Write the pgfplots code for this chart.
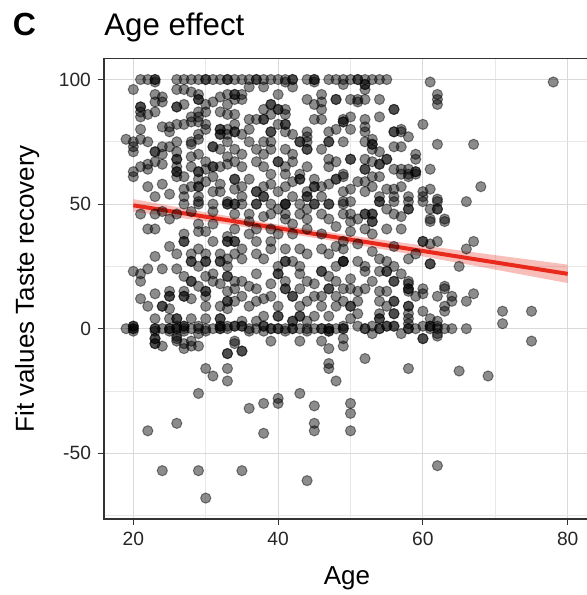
\documentclass[border=0pt]{standalone}
\usepackage{fontspec}
\setmainfont{Liberation Sans}
\usepackage{pgfplots}
\usepackage{pgfplotstable}
\pgfplotsset{compat=1.18}
\definecolor{fitred}{HTML}{E8291C}

\pgfplotstableread{
x y
21 100
22 100
23 100
26 100
27 100
28 100
29 100
30 100
31 100
32 100
33 100
34 100
23 100
30 100
33 100
23 99
20 96
26 96
27 96
28 95
29 94
23 94
24 93
32 93
33 94
23 91
24 91
29 92
29 92
30 90
31 91
21 89
21 89
26 89
26 89
27 90
33 90
21 87
22 86
23 87
29 87
30 87
32 87
33 86
21 85
28 85
29 85
24 81
25 81
26 82
27 82
28 83
29 83
30 82
32 80
32 80
33 80
21 80
25 79
29 78
30 80
32 78
32 78
33 78
19 76
20 75
21 76
22 75
26 75
28 75
29 76
33 75
20 73
24 73
25 73
28 74
31 73
31 73
20 71
23 71
23 71
26 71
32 72
24 70
28 69
29 70
33 69
26 68
26 68
23 67
22 66
30 67
21 65
24 66
26 65
28 65
31 65
31 65
32 65
33 66
20 63
22 64
26 63
26 63
29 63
29 63
30 64
20 61
26 61
27 61
29 60
31 61
28 57
29 57
29 57
32 58
32 55
31 55
23 53
25 54
27 53
29 53
29 51
33 51
35 100
36 100
37 100
37 100
38 100
39 100
40 100
41 100
42 100
42 100
44 100
45 100
45 100
47 100
48 100
41 99
45 99
36 97
38 97
42 97
34 94
34 94
35 94
40 94
46 94
34 92
35 92
44 92
48 92
48 92
39 90
39 90
45 90
46 91
38 88
40 88
40 88
41 88
46 88
34 86
39 86
41 86
36 84
37 84
38 84
38 84
45 84
46 84
49 84
34 82
40 82
41 82
41 82
34 79
34 79
36 80
39 79
39 79
41 79
44 79
47 79
48 80
35 78
42 78
44 77
36 75
38 75
39 75
43 75
43 75
44 75
47 75
47 75
49 75
34 72
37 72
39 72
41 72
44 72
44 72
46 72
35 70
38 70
42 70
34 67
37 67
40 67
40 67
42 67
47 68
48 67
35 65
38 65
41 65
44 65
47 65
39 62
41 62
43 62
49 62
34 60
34 60
36 60
43 60
43 60
45 60
48 60
48 60
35 57
38 57
41 57
45 57
45 57
47 58
37 55
37 55
40 55
44 55
49 55
35 53
38 53
38 53
42 53
44 53
44 53
46 53
35 50
41 50
47 50
49 100
50 100
51 100
51 100
52 100
53 100
54 100
55 100
61 99
52 98
52 98
49 98
52 96
62 94
62 92
62 90
50 92
51 92
52 92
54 92
51 91
56 88
56 88
54 85
50 85
52 84
52 81
52 79
49 83
49 83
60 82
50 80
56 79
56 79
57 79
58 77
53 76
52 75
62 74
53 74
53 74
57 73
56 73
54 71
53 72
59 70
52 68
50 68
50 68
59 68
55 68
55 68
53 67
54 66
54 66
56 64
57 64
58 64
59 63
59 63
52 64
52 64
61 64
54 61
53 61
49 61
58 61
51 59
52 59
52 55
55 56
56 56
60 55
61 56
54 53
56 53
58 53
60 53
62 52
50 51
62 48
60 51
66 51
67 74
68 57
78 99
57 62
58 62
61 48
61 43
63 43
59 62
57 80
21 46
23 46
26 46
27 50
29 50
31 50
33 50
33 50
22 40
23 40
29 42
31 42
29 39
30 39
27 38
27 35
27 35
31 35
33 35
33 35
33 37
28 30
30 30
32 30
28 27
28 27
30 27
30 27
32 27
32 27
33 28
29 25
20 23
21 22
22 24
24 24
26 24
21 19
28 19
28 19
27 21
30 21
31 22
33 21
33 21
31 19
25 15
27 15
30 15
30 15
33 15
25 13
25 13
27 13
27 13
28 12
30 13
33 11
33 11
22 9
24 9
24 9
25 8
30 9
32 9
33 8
23 4
25 4
26 4
26 4
28 4
30 4
32 4
32 4
20 1
20 1
26 1
27 1
27 1
29 1
32 1
32 1
33 1
19 0
20 0
20 0
23 0
23 0
24 0
25 0
25 0
26 0
26 0
27 0
28 0
29 0
30 0
31 0
32 0
32 0
33 0
20 -1
23 -1
25 -1
27 -1
29 -2
30 -1
23 -4
23 -4
26 -4
28 -5
27 -6
34 50
34 50
37 50
37 50
39 50
41 50
41 50
43 50
45 50
45 50
47 50
49 50
34 46
36 46
39 46
41 46
43 46
46 46
49 46
41 44
44 44
47 44
34 40
37 40
39 40
44 40
36 38
40 38
42 38
46 38
34 35
34 35
37 35
39 35
49 35
35 32
39 32
41 32
43 32
46 32
34 30
37 30
47 30
41 27
41 27
42 27
49 27
33 25
40 25
43 25
48 25
46 23
46 23
37 22
40 22
40 22
43 22
47 21
34 19
35 19
41 19
44 19
48 19
34 16
37 16
41 16
41 16
43 16
47 16
47 16
35 13
39 13
42 13
42 13
45 13
48 13
34 11
37 11
44 11
36 9
40 9
43 9
46 9
48 9
38 5
40 5
40 5
43 5
43 5
45 5
47 5
35 3
37 3
42 3
42 3
44 3
34 1
34 1
35 1
35 1
36 0
37 0
38 1
38 1
39 0
39 0
40 0
40 0
41 0
42 0
42 0
43 0
44 0
45 0
46 0
46 0
47 0
47 0
48 0
49 0
36 -1
38 -1
41 -1
44 -1
47 -1
47 -1
34 -5
39 -5
43 -5
46 -5
49 51
54 51
54 51
56 51
58 51
62 51
58 48
58 48
62 48
50 46
52 46
52 46
53 46
53 46
56 46
61 44
63 44
51 44
53 43
53 43
55 40
57 40
50 39
52 40
53 38
60 35
60 35
62 35
61 34
49 32
53 31
54 28
58 28
49 27
49 27
51 27
61 26
55 27
52 25
56 25
52 23
54 23
55 23
55 23
56 19
56 19
58 19
50 16
58 16
58 16
60 16
52 16
63 16
49 16
51 15
54 15
55 15
59 13
62 13
64 13
56 11
56 11
49 11
54 11
50 9
50 9
58 9
58 9
63 9
56 6
56 6
54 6
58 6
51 6
50 4
54 4
54 4
58 4
61 4
49 1
51 1
53 1
55 1
55 1
56 1
56 1
60 1
61 1
61 1
62 1
49 0
52 0
52 0
54 0
54 0
58 0
58 0
59 0
61 0
63 0
53 -2
57 -2
62 -2
60 -4
60 -4
49 -4
49 -7
52 -12
58 -16
65 -17
69 -19
62 -55
75 7
75 -5
71 7
71 2
66 0
63 7
63 17
64 11
66 11
67 14
65 25
66 32
67 35
61 26
60 7
60 14
62 3
62 0
62 -3
64 0
58 18
58 15
58 2
22 -41
26 -38
24 -57
29 -57
35 -57
30 -68
29 -26
30 -16
31 -19
33 -16
33 -21
33 -10
33 -10
35 -9
35 -9
34 -6
36 -32
38 -30
38 -42
40 -28
40 -30
43 -26
45 -31
45 -38
45 -41
44 -61
47 -14
47 -16
48 -21
47 -8
50 -30
50 -34
50 -41
23 -6
23 -6
24 -7
27 -8
28 -7
29 -7
26 -5
26 -3
22 57
24 47
25 44
28 47
31 47
36 43
38 45
40 48
42 42
44 48
48 41
50 43
55 48
57 45
24 58
27 56
30 59
34 56
39 58
42 59
46 57
50 56
53 57
57 57
25 33
23 29
26 30
29 32
35 28
38 28
44 30
48 33
51 34
56 33
59 30
36 17
39 18
45 18
50 20
53 19
57 22
21 12
23 14
29 17
32 18
38 12
46 13
51 11
55 9
}\scatterdata

\begin{document}
\begin{tikzpicture}
\begin{axis}[
  at={(0,0)}, anchor=south west,
  width=242.9pt, height=230.2pt, scale only axis,
  xmin=15.95, xmax=83.05, ymin=-76.4, ymax=108.4,
  xtick={20,40,60,80}, ytick={-50,0,50,100},
  xticklabels={20,40,60,80}, yticklabels={-50,0,50,100},
  minor xtick={30,50,70}, minor ytick={-75,-25,25,75},
  grid=both,
  major grid style={line width=0.5pt, draw=black!15},
  minor grid style={line width=0.35pt, draw=black!9},
  axis line style={draw=black!80, line width=0.8pt},
  tick style={draw=black!80, line width=0.5pt},
  major tick length=3pt, minor tick length=0pt,
  tick align=outside, tick pos=left,
  tick label style={font=\fontsize{9.6}{11}\selectfont, text=black!85},
  xlabel={Age}, ylabel={Fit values Taste recovery},
  label style={font=\fontsize{13}{15}\selectfont},
  xlabel style={at={(axis description cs:0.5,-0.1412)}, anchor=base},
  ylabel style={at={(axis description cs:-0.1441,0.5)}, anchor=base},
]
\addplot[only marks, mark=*, mark size=2.55pt,
  mark options={fill=black, fill opacity=0.45, draw=black, draw opacity=0.45, line width=0.5pt}]
  table[x=x, y=y] {\scatterdata};
\addplot[draw=none, fill=fitred, fill opacity=0.3] coordinates {
  (20,52.0) (30,46.7) (40,41.8) (50,37.4) (60,33.4) (70,29.5) (80,25.7)
  (80,18.3) (70,23.7) (60,29.0) (50,34.1) (40,38.8) (30,43.1) (20,47.0)
} -- cycle;
\addplot[fitred, line width=2pt] coordinates {(20,49.5) (80,22.0)};
\end{axis}
\node[anchor=base west, inner sep=0pt, font=\fontsize{15.6}{18}\selectfont] at (0,241.5pt) {Age effect};
\node[anchor=base west, inner sep=0pt, font=\fontsize{16}{18}\selectfont\bfseries] at (-45.7pt,241.5pt) {C};
\pgfresetboundingbox
\path[use as bounding box] (-52pt,-38pt) rectangle (241pt,259.5pt);
\end{tikzpicture}
\end{document}
